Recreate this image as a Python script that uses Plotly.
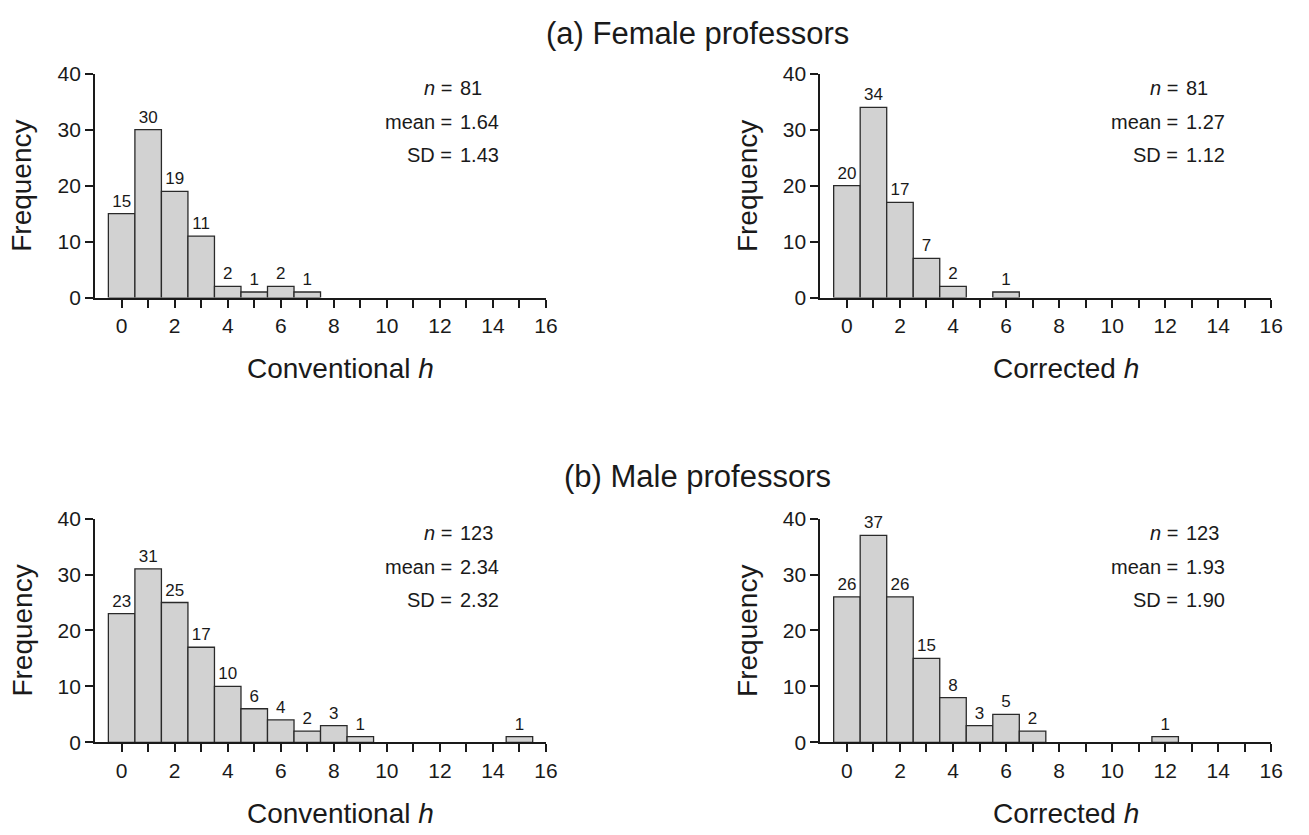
import plotly.graph_objects as go

# ---------------- data ----------------
female_conv_h = [0, 1, 2, 3, 4, 5, 6, 7]
female_conv_freq = [15, 30, 19, 11, 2, 1, 2, 1]
female_corr_h = [0, 1, 2, 3, 4, 6]
female_corr_freq = [20, 34, 17, 7, 2, 1]
male_conv_h = [0, 1, 2, 3, 4, 5, 6, 7, 8, 9, 15]
male_conv_freq = [23, 31, 25, 17, 10, 6, 4, 2, 3, 1, 1]
male_corr_h = [0, 1, 2, 3, 4, 5, 6, 7, 12]
male_corr_freq = [26, 37, 26, 15, 8, 3, 5, 2, 1]

stat_labels = ["<i>n</i>", "mean", "SD"]
female_conv_stats = ["81", "1.64", "1.43"]
female_corr_stats = ["81", "1.27", "1.12"]
male_conv_stats = ["123", "2.34", "2.32"]
male_corr_stats = ["123", "1.93", "1.90"]

x_tick_vals = list(range(0, 17))
x_tick_text = [str(v) if v % 2 == 0 else "" for v in x_tick_vals]
y_tick_vals = [0, 10, 20, 30, 40]

group_titles = ["(a) Female professors", "(b) Male professors"]
x_titles = ["Conventional <i>h</i>", "Corrected <i>h</i>"]
y_title = "Frequency"

FONT = "Liberation Sans, Arial, Helvetica, sans-serif"
INK = "#1a1a1a"
BAR_FILL = "#d2d2d2"

W, H = 1309, 835

def px_x(p):
    return p / W

def px_y(p):
    return 1 - p / H

x_domains = [[px_x(96), px_x(551)], [px_x(828), px_x(1283)]]
y_domains = [[px_y(293.7), px_y(63.5)], [px_y(751), px_y(521)]]

panels = [
    (female_conv_h, female_conv_freq, female_conv_stats, 0, 0),
    (female_corr_h, female_corr_freq, female_corr_stats, 1, 0),
    (male_conv_h, male_conv_freq, male_conv_stats, 0, 1),
    (male_corr_h, male_corr_freq, male_corr_stats, 1, 1),
]

fig = go.Figure()
annotations = []
layout_axes = {}

for i, (hx, freq, stats, col, row) in enumerate(panels):
    n = i + 1
    xa = "x" if n == 1 else f"x{n}"
    ya = "y" if n == 1 else f"y{n}"
    fig.add_trace(go.Bar(
        x=hx, y=freq, width=1.0,
        marker=dict(color=BAR_FILL, line=dict(color="#2a2a2a", width=1.3)),
        text=[str(v) for v in freq], textposition="outside",
        textfont=dict(family=FONT, size=17, color=INK),
        constraintext="none", cliponaxis=False, textangle=0,
        xaxis=xa, yaxis=ya, showlegend=False, hoverinfo="skip",
    ))
    axis_common = dict(
        showline=True, linecolor=INK, linewidth=2,
        ticks="outside", ticklen=8, tickwidth=2, tickcolor=INK,
        showgrid=False, zeroline=False,
        tickfont=dict(family=FONT, size=21, color=INK),
        fixedrange=True,
    )
    layout_axes["xaxis" if n == 1 else f"xaxis{n}"] = dict(
        axis_common, domain=x_domains[col], range=[-1, 16],
        tickvals=x_tick_vals, ticktext=x_tick_text, anchor=ya,
    )
    layout_axes["yaxis" if n == 1 else f"yaxis{n}"] = dict(
        axis_common, domain=y_domains[row], range=[0, 40],
        tickvals=y_tick_vals, anchor=xa,
    )
    # axis titles
    annotations.append(dict(
        text=x_titles[col], xref=xa, x=8.25, yref=f"{ya} domain", y=0,
        yshift=-71, xanchor="center", yanchor="middle", showarrow=False,
        font=dict(family=FONT, size=28, color=INK),
    ))
    annotations.append(dict(
        text=y_title, xref=f"{xa} domain", x=0, xshift=-73, yref=f"{ya} domain",
        y=0.5, textangle=-90, xanchor="center", yanchor="middle", showarrow=False,
        font=dict(family=FONT, size=28, color=INK),
    ))
    # stats aligned on "="
    for lab, val, yy in zip(stat_labels, stats, [37.4, 31.3, 25.4]):
        annotations.append(dict(
            text=f"{lab} =", xref=xa, x=12.55, yref=ya, y=yy,
            xanchor="right", yanchor="middle", showarrow=False,
            font=dict(family=FONT, size=20, color=INK),
        ))
        annotations.append(dict(
            text=val, xref=xa, x=12.55, xshift=4, yref=ya, y=yy,
            xanchor="left", yanchor="middle", showarrow=False,
            font=dict(family=FONT, size=20, color=INK),
        ))

# group titles
for t, yp in zip(group_titles, [22, 478]):
    annotations.append(dict(
        text=t, xref="paper", x=px_x(704), yref="paper", y=px_y(yp),
        xanchor="center", yanchor="middle", showarrow=False,
        font=dict(family=FONT, size=31, color=INK),
    ))

fig.update_layout(
    width=W, height=H,
    margin=dict(l=0, r=0, t=0, b=0),
    paper_bgcolor="white", plot_bgcolor="white",
    bargap=0, annotations=annotations,
    **layout_axes,
)

fig.write_html(
    "out.html",
    config={"displayModeBar": False, "staticPlot": True},
    post_script="document.body.style.margin='0';document.body.style.overflow='hidden';",
)
